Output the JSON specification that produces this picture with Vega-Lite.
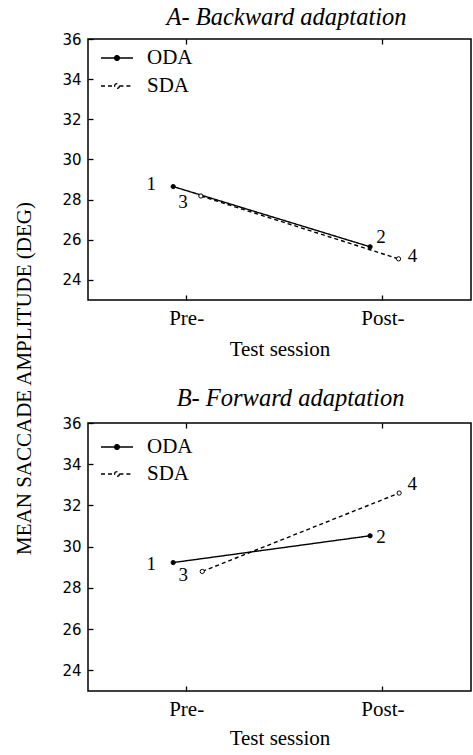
{
  "$schema": "https://vega.github.io/schema/vega-lite/v6.json",
  "background": "white",
  "padding": {"left": 12, "top": 3, "right": 0, "bottom": 0},
  "datasets": {
    "pts": [
      {"panel": "A", "group": "ODA", "session": "Pre-", "x": 0.934, "y": 28.65, "lab": "1"},
      {"panel": "A", "group": "ODA", "session": "Post-", "x": 1.937, "y": 25.65, "lab": "2"},
      {"panel": "A", "group": "SDA", "session": "Pre-", "x": 1.075, "y": 28.18, "lab": "3"},
      {"panel": "A", "group": "SDA", "session": "Post-", "x": 2.082, "y": 25.05, "lab": "4"},
      {"panel": "B", "group": "ODA", "session": "Pre-", "x": 0.934, "y": 29.23, "lab": "1"},
      {"panel": "B", "group": "ODA", "session": "Post-", "x": 1.937, "y": 30.53, "lab": "2"},
      {"panel": "B", "group": "SDA", "session": "Pre-", "x": 1.082, "y": 28.8, "lab": "3"},
      {"panel": "B", "group": "SDA", "session": "Post-", "x": 2.085, "y": 32.6, "lab": "4"}
    ]
  },
  "bounds": "flush",
  "spacing": 123,
  "resolve": {"scale": {"strokeDash": "independent"}, "legend": {"strokeDash": "independent"}},
  "vconcat": [
    {
      "width": 383,
      "height": 261,
      "data": {"name": "pts"},
      "transform": [{"filter": "datum.panel === 'A'"}],
      "title": {"text": "A- Backward adaptation", "font": "Liberation Serif", "fontStyle": "italic", "fontWeight": "normal", "fontSize": 24.5, "frame": "group", "anchor": "middle", "dx": 7, "offset": 2, "color": "black"},
      "encoding": {
        "y": {"field": "y", "type": "quantitative", "scale": {"domain": [23, 36], "nice": false, "zero": false},
          "axis": {"values": [24, 26, 28, 30, 32, 34, 36], "offset": -5, "tickSize": 5, "labelFont": "DejaVu Sans", "labelFontSize": 15, "labelPadding": 7,
            "title": "MEAN SACCADE AMPLITUDE (DEG)", "titleFont": "Liberation Serif", "titleFontSize": 21, "titleFontWeight": "normal",
            "titleX": -69, "titleY": 339, "titleAngle": -90, "titleBaseline": "middle", "titleAlign": "center"}}
      },
      "layer": [
        {
          "mark": {"type": "line", "color": "black", "strokeWidth": 1.4},
          "encoding": {
            "x": {"field": "x", "type": "quantitative", "scale": {"domain": [0.5, 2.451], "nice": false, "zero": false},
              "axis": {"values": [1, 2], "offset": -5, "tickSize": 5, "labelExpr": "datum.value == 1 ? 'Pre-' : 'Post-'", "labelFont": "Liberation Serif", "labelFontSize": 21, "labelPadding": 7, "labelFlush": false,
                "title": "Test session", "titleFont": "Liberation Serif", "titleFontSize": 21, "titleFontWeight": "normal", "titlePadding": 10}},
            "strokeDash": {"field": "group", "type": "nominal", "scale": {"domain": ["ODA", "SDA"], "range": [[1, 0], [4, 3]]},
              "legend": {"title": null, "orient": "none", "legendX": 12, "legendY": 2,
                "symbolType": "M-1,0L-0.15,0M0.15,0L1,0M-0.15,0A0.15,0.15,0,1,1,0.15,0A0.15,0.15,0,1,1,-0.15,0",
                "symbolSize": 1024, "symbolStrokeWidth": 1.3, "symbolStrokeColor": "black",
                "labelFont": "Liberation Serif", "labelFontSize": 21, "labelOffset": 13, "rowPadding": 1, "labelColor": "black",
                "encode": {"symbols": {"update": {"fill": [{"test": "datum.value === 'ODA'", "value": "black"}, {"value": "white"}], "stroke": {"value": "black"}}}}}}
          }
        },
        {
          "mark": {"type": "point", "shape": "circle", "filled": true, "stroke": "black", "strokeWidth": 1, "size": 18, "opacity": 1},
          "encoding": {
            "x": {"field": "x", "type": "quantitative", "axis": {"orient": "top", "values": [1, 2], "labels": false, "title": null, "offset": -5, "tickSize": 5}},
            "fill": {"field": "group", "type": "nominal", "scale": {"domain": ["ODA", "SDA"], "range": ["black", "white"]}, "legend": null}
          }
        },
        {"transform": [{"filter": "datum.lab === '1'"}], "mark": {"type": "text", "font": "Liberation Serif", "fontSize": 19, "align": "center", "baseline": "middle", "color": "black", "dx": -22, "dy": -3},
          "encoding": {"x": {"field": "x", "type": "quantitative", "axis": null}, "text": {"field": "lab"}}},
        {"transform": [{"filter": "datum.lab === '2'"}], "mark": {"type": "text", "font": "Liberation Serif", "fontSize": 19, "align": "center", "baseline": "middle", "color": "black", "dx": 11, "dy": -10},
          "encoding": {"x": {"field": "x", "type": "quantitative", "axis": null}, "text": {"field": "lab"}}},
        {"transform": [{"filter": "datum.lab === '3'"}], "mark": {"type": "text", "font": "Liberation Serif", "fontSize": 19, "align": "center", "baseline": "middle", "color": "black", "dx": -18, "dy": 6},
          "encoding": {"x": {"field": "x", "type": "quantitative", "axis": null}, "text": {"field": "lab"}}},
        {"transform": [{"filter": "datum.lab === '4'"}], "mark": {"type": "text", "font": "Liberation Serif", "fontSize": 19, "align": "center", "baseline": "middle", "color": "black", "dx": 14, "dy": -3},
          "encoding": {"x": {"field": "x", "type": "quantitative", "axis": null}, "text": {"field": "lab"}}}
      ],
      "resolve": {"axis": {"x": "independent"}}
    },
    {
      "width": 383,
      "height": 268,
      "data": {"name": "pts"},
      "transform": [{"filter": "datum.panel === 'B'"}],
      "title": {"text": "B- Forward adaptation", "font": "Liberation Serif", "fontStyle": "italic", "fontWeight": "normal", "fontSize": 24.5, "frame": "group", "anchor": "middle", "dx": 11, "offset": 5, "color": "black"},
      "encoding": {
        "y": {"field": "y", "type": "quantitative", "scale": {"domain": [23, 36], "nice": false, "zero": false},
          "axis": {"values": [24, 26, 28, 30, 32, 34, 36], "offset": -5, "tickSize": 5, "labelFont": "DejaVu Sans", "labelFontSize": 15, "labelPadding": 7, "title": null}}
      },
      "layer": [
        {
          "mark": {"type": "line", "color": "black", "strokeWidth": 1.4},
          "encoding": {
            "x": {"field": "x", "type": "quantitative", "scale": {"domain": [0.5, 2.451], "nice": false, "zero": false},
              "axis": {"values": [1, 2], "offset": -5, "tickSize": 5, "labelExpr": "datum.value == 1 ? 'Pre-' : 'Post-'", "labelFont": "Liberation Serif", "labelFontSize": 21, "labelPadding": 7, "labelFlush": false,
                "title": "Test session", "titleFont": "Liberation Serif", "titleFontSize": 21, "titleFontWeight": "normal", "titlePadding": 8}},
            "strokeDash": {"field": "group", "type": "nominal", "scale": {"domain": ["ODA", "SDA"], "range": [[1, 0], [4, 3]]},
              "legend": {"title": null, "orient": "none", "legendX": 12, "legendY": 7,
                "symbolType": "M-1,0L-0.15,0M0.15,0L1,0M-0.15,0A0.15,0.15,0,1,1,0.15,0A0.15,0.15,0,1,1,-0.15,0",
                "symbolSize": 1024, "symbolStrokeWidth": 1.3, "symbolStrokeColor": "black",
                "labelFont": "Liberation Serif", "labelFontSize": 21, "labelOffset": 13, "rowPadding": -4, "labelColor": "black",
                "encode": {"symbols": {"update": {"fill": [{"test": "datum.value === 'ODA'", "value": "black"}, {"value": "white"}], "stroke": {"value": "black"}}}}}}
          }
        },
        {
          "mark": {"type": "point", "shape": "circle", "filled": true, "stroke": "black", "strokeWidth": 1, "size": 18, "opacity": 1},
          "encoding": {
            "x": {"field": "x", "type": "quantitative", "axis": {"orient": "top", "values": [1, 2], "labels": false, "title": null, "offset": -5, "tickSize": 5}},
            "fill": {"field": "group", "type": "nominal", "scale": {"domain": ["ODA", "SDA"], "range": ["black", "white"]}, "legend": null}
          }
        },
        {"transform": [{"filter": "datum.lab === '1'"}], "mark": {"type": "text", "font": "Liberation Serif", "fontSize": 19, "align": "center", "baseline": "middle", "color": "black", "dx": -22, "dy": 1},
          "encoding": {"x": {"field": "x", "type": "quantitative", "axis": null}, "text": {"field": "lab"}}},
        {"transform": [{"filter": "datum.lab === '2'"}], "mark": {"type": "text", "font": "Liberation Serif", "fontSize": 19, "align": "center", "baseline": "middle", "color": "black", "dx": 11, "dy": 1},
          "encoding": {"x": {"field": "x", "type": "quantitative", "axis": null}, "text": {"field": "lab"}}},
        {"transform": [{"filter": "datum.lab === '3'"}], "mark": {"type": "text", "font": "Liberation Serif", "fontSize": 19, "align": "center", "baseline": "middle", "color": "black", "dx": -19, "dy": 4},
          "encoding": {"x": {"field": "x", "type": "quantitative", "axis": null}, "text": {"field": "lab"}}},
        {"transform": [{"filter": "datum.lab === '4'"}], "mark": {"type": "text", "font": "Liberation Serif", "fontSize": 19, "align": "center", "baseline": "middle", "color": "black", "dx": 13, "dy": -9},
          "encoding": {"x": {"field": "x", "type": "quantitative", "axis": null}, "text": {"field": "lab"}}}
      ],
      "resolve": {"axis": {"x": "independent"}}
    }
  ],
  "config": {
    "view": {"stroke": "black", "strokeWidth": 1.5},
    "axis": {"grid": false, "domain": false, "ticks": true, "tickColor": "black", "tickWidth": 1.3, "labelColor": "black", "titleColor": "black"},
    "font": "Liberation Serif"
  }
}
